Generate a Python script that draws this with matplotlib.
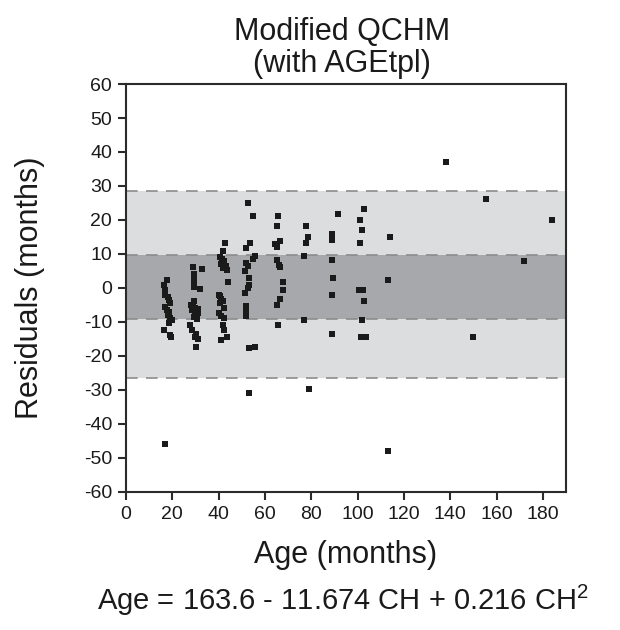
import numpy as np
import matplotlib.pyplot as plt

plt.rcParams['font.family'] = ['Liberation Sans', 'DejaVu Sans']
plt.rcParams['axes.unicode_minus'] = False

# age (months) and residuals (months)
ages = [
    # ~18 months
    17.6, 16.5, 16.8, 17.0, 16.8, 18.0, 18.5, 19.0, 17.0, 17.8, 18.5, 18.2,
    19.0, 19.8, 18.5, 16.5, 18.8, 19.5, 16.8,
    # ~30 months
    29.0, 32.7, 29.3, 29.3, 29.2, 29.5, 32.0, 28.0, 29.0, 30.0, 31.0, 28.5,
    29.8, 31.2, 30.3, 29.2, 30.5, 27.5, 28.5, 30.2, 29.8, 31.0, 30.3, 29.5,
    # ~42 months
    42.8, 42.0, 40.5, 41.5, 42.5, 41.0, 43.0, 42.0, 43.5, 44.0, 40.5, 41.0,
    42.0, 40.8, 42.5, 40.0, 41.2, 42.3, 42.0, 42.5, 43.5, 41.0, 40.2,
    # ~54 months
    52.8, 54.7, 53.5, 52.0, 55.5, 54.7, 51.8, 52.5, 51.5, 53.0, 53.3, 52.5,
    51.5, 51.8, 51.8, 51.8, 51.8, 53.3, 55.7, 53.0,
    # ~66 months
    65.8, 65.1, 66.5, 65.1, 65.1, 66.2, 66.6, 67.7, 67.7, 66.5, 65.0, 65.8, 64.5,
    # ~78 months
    77.8, 78.8, 77.8, 76.9, 76.9, 78.9,
    # ~90 months
    91.7, 88.8, 88.8, 88.8, 88.8, 89.6, 88.8, 88.8,
    # ~102 months
    102.8, 101.0, 102.0, 101.0, 100.8, 102.5, 102.8, 102.0, 101.5, 103.5,
    # older
    113.9, 113.0, 113.0, 138.0, 149.9, 155.4, 171.9, 184.0,
]
residuals = [
    2.2, 0.8, -0.7, -1.5, -2.2, -2.8, -3.6, -4.5, -5.7, -6.5, -7.2, -8.0,
    -8.8, -9.6, -10.2, -12.5, -13.8, -14.6, -46.0,
    6.1, 5.6, 4.2, 2.8, 1.7, 0.2, -0.2, -5.0, -5.5, -5.8, -6.2, -6.5,
    -7.0, -7.3, -8.0, -8.5, -9.2, -11.0, -12.5, -13.5, -14.5, -15.0, -17.4, -4.0,
    13.2, 11.0, 9.0, 8.5, 7.8, 7.0, 6.5, 5.8, 5.2, 1.7, -2.5, -3.3,
    -3.8, -4.5, -6.0, -7.5, -8.3, -9.0, -10.8, -12.5, -14.5, -15.3, -2.0,
    25.1, 21.3, 13.2, 11.8, 9.3, 8.6, 7.2, 6.3, 5.1, 3.0, 0.9, 0.0,
    -1.4, -5.4, -6.4, -7.4, -8.4, -17.7, -17.5, -30.9,
    21.3, 18.1, 13.8, 12.0, 8.1, 6.8, 6.1, 1.7, -0.7, -3.2, -5.1, -10.8, 12.8,
    18.1, 15.0, 13.2, 9.3, -9.6, -29.8,
    21.8, 16.0, 15.0, 14.0, 8.1, 3.0, -2.0, -13.5,
    23.3, 20.0, 16.9, 13.2, -0.7, -0.7, -4.0, -9.6, -14.6, -14.6,
    15.0, 2.4, -47.9, 37.0, -14.6, 26.3, 8.0, 20.0,
]

inner_band = (-9.3, 9.7)
outer_band = (-26.6, 28.5)

fig = plt.figure(figsize=(6.2, 6.3), dpi=100)
ax = fig.add_axes([0.2032, 0.2195, 0.7097, 0.6471])

ax.axhspan(*outer_band, color='#dcdddf', lw=0, zorder=0)
ax.axhspan(*inner_band, color='#a6a8ab', lw=0, zorder=1)
for v in list(outer_band) + list(inner_band):
    ax.axhline(v, color='#8c8c8c', lw=1.2, dashes=(7, 5), zorder=2)

ax.plot(ages, residuals, 's', color='#1a1a1a', markersize=3.8,
        markeredgewidth=0, zorder=3)

ax.set_xlim(0, 190)
ax.set_ylim(-60, 60)
ax.set_xticks(np.arange(0, 181, 20))
ax.set_yticks(np.arange(-60, 61, 10))

for s in ax.spines.values():
    s.set_linewidth(1.5)
    s.set_color('#2b2b2b')
ax.tick_params(direction='out', length=6, width=1.5, color='#2b2b2b',
               labelsize=14, pad=4, labelcolor='#1a1a1a')

ax.set_xlabel('Age (months)', fontsize=22, color='#1a1a1a', va='center')
ax.xaxis.set_label_coords(0.5, -0.155)
ax.set_ylabel('Residuals (months)', fontsize=22, color='#1a1a1a', va='center')
ax.yaxis.set_label_coords(-0.218, 0.5)

fig.text(0.551, 1 - 48 / 630, 'Modified QCHM\n(with AGEtpl)', fontsize=22,
         ha='center', va='center', linespacing=1.05, color='#1a1a1a')
fig.text(0.553, 1 - 600 / 630,
         r'Age = 163.6 - 11.674 CH + 0.216 CH$\mathregular{^2}$',
         fontsize=21, ha='center', va='center', color='#1a1a1a')

fig.savefig('out.png', dpi=100)
